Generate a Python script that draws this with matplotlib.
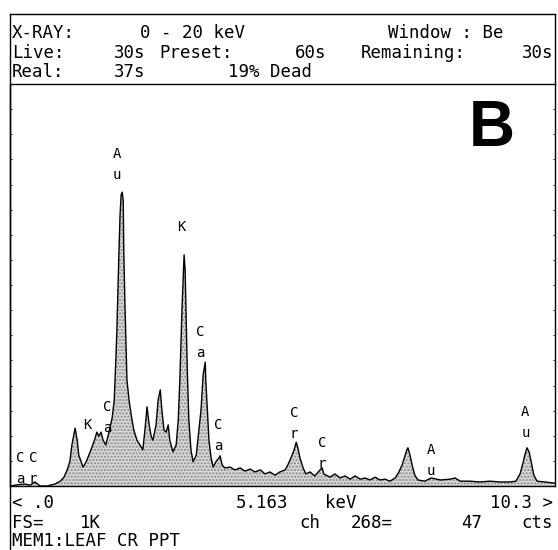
import matplotlib
matplotlib.use('Agg')
from matplotlib import pyplot as plt
import numpy as np

# spectrum, keV vs counts (full scale = 1K)
energy = [0.00, 0.09, 0.28, 0.38, 0.47, 0.57, 0.70, 0.85, 0.95, 1.02, 1.08, 1.13, 1.17, 1.23, 1.27,
          1.30, 1.38, 1.44, 1.47, 1.55, 1.61, 1.64, 1.68, 1.72, 1.76, 1.81, 1.87, 1.93, 1.97, 2.00,
          2.02, 2.04, 2.06, 2.08, 2.10, 2.12, 2.14, 2.15, 2.17, 2.19, 2.21, 2.25, 2.29, 2.34, 2.40,
          2.48, 2.51, 2.55, 2.59, 2.63, 2.67, 2.70, 2.76, 2.80, 2.84, 2.87, 2.91, 2.95, 2.99, 3.02,
          3.08, 3.14, 3.18, 3.21, 3.25, 3.29, 3.31, 3.33, 3.35, 3.38, 3.42, 3.46, 3.52, 3.57, 3.61,
          3.65, 3.69, 3.70, 3.72, 3.76, 3.80, 3.84, 3.89, 3.95, 3.97, 4.01, 4.06, 4.16, 4.25, 4.35,
          4.44, 4.54, 4.63, 4.73, 4.82, 4.91, 5.01, 5.10, 5.20, 5.25, 5.31, 5.37, 5.41, 5.44, 5.48,
          5.54, 5.59, 5.67, 5.76, 5.86, 5.90, 5.93, 6.05, 6.14, 6.24, 6.33, 6.43, 6.52, 6.62, 6.71,
          6.80, 6.90, 6.99, 7.09, 7.18, 7.28, 7.35, 7.41, 7.47, 7.50, 7.52, 7.56, 7.60, 7.65, 7.71,
          7.84, 7.96, 8.13, 8.32, 8.41, 8.51, 8.69, 8.88, 9.07, 9.26, 9.45, 9.56, 9.64, 9.70, 9.73,
          9.77, 9.81, 9.85, 9.90, 9.96, 10.11, 10.30]
counts = [0, 2, 5, 2, 10, 0, 0, 5, 12, 22, 40, 60, 102, 144, 114,
          77, 47, 60, 70, 97, 119, 134, 124, 134, 114, 102, 134, 169, 214, 313,
          388, 488, 587, 674, 724, 731, 711, 587, 463, 363, 264, 214, 177, 139, 114,
          97, 90, 139, 197, 152, 122, 114, 152, 214, 239, 189, 139, 134, 152, 114,
          85, 102, 164, 264, 438, 575, 537, 413, 289, 164, 90, 60, 77, 139, 189,
          276, 308, 264, 214, 114, 70, 47, 60, 70, 75, 52, 45, 47, 40, 45,
          37, 42, 35, 40, 30, 35, 27, 35, 40, 52, 70, 90, 109, 95, 70,
          45, 30, 35, 25, 40, 45, 30, 22, 30, 20, 25, 17, 25, 17, 20,
          15, 22, 15, 17, 12, 20, 35, 52, 77, 90, 95, 77, 52, 27, 15,
          12, 20, 15, 17, 20, 12, 12, 10, 12, 10, 10, 12, 30, 60, 77,
          95, 85, 60, 27, 12, 10, 7]

# peak markers: (text, keV, counts of the upper letter)
peak_labels = [('Au', 2.02, 825), ('K', 3.24, 644), ('Ca', 3.59, 383),
               ('K', 1.46, 152), ('Ca', 1.83, 197), ('Ca', 3.93, 152),
               ('Ca', 0.19, 70), ('Cr', 0.43, 70), ('Cr', 5.37, 181),
               ('Cr', 5.90, 107), ('Au', 7.96, 90), ('Au', 9.74, 184)]

W, H = 558, 550
fig = plt.figure(figsize=(W / 100, H / 100), dpi=100)

# frame in pixel coordinates
bg = fig.add_axes([0, 0, 1, 1])
bg.set_xlim(0, W)
bg.set_ylim(H, 0)
bg.axis('off')
lw = 1.0
bg.plot([10, 555], [14, 14], color='k', lw=lw)
bg.plot([10, 10], [14, 550], color='k', lw=lw)
bg.plot([555, 555], [14, 84], color='k', lw=lw)

mono = 'DejaVu Sans Mono'
fs = 12.5


def txt(x, y, s, ha='center'):
    bg.text(x, y, s, ha=ha, va='center', fontsize=fs, family=mono, color='k')


# header
txt(12, 33, 'X-RAY:', 'left')
txt(192, 33, '0 - 20 keV')
txt(446, 33, 'Window : Be')
txt(12, 53, 'Live:', 'left')
txt(130, 53, '30s')
txt(196, 53, 'Preset:')
txt(311, 53, '60s')
txt(413, 53, 'Remaining:')
txt(553, 53, '30s', 'right')
txt(12, 72, 'Real:', 'left')
txt(130, 72, '37s')
txt(270, 72, '19% Dead')

# footer
txt(12, 503, '< .0', 'left')
txt(262, 503, '5.163')
txt(341, 503, 'keV')
txt(553, 503, '10.3 >', 'right')
txt(12, 523, 'FS=', 'left')
txt(90, 523, '1K')
txt(310, 523, 'ch')
txt(372, 523, '268=')
txt(472, 523, '47')
txt(553, 523, 'cts', 'right')
txt(12, 541, 'MEM1:LEAF CR PPT', 'left')

bg.text(492, 129, 'B', ha='center', va='center', fontsize=46,
        family='Liberation Sans', fontweight='bold', color='k')

# spectrum
ax = fig.add_axes([10 / W, 1 - 486 / H, 545 / W, (486 - 84) / H])
ax.patch.set_alpha(0)
ax.fill_between(energy, counts, 0, facecolor='#d6d6d6', edgecolor='#8a8a8a',
                hatch='.....', linewidth=0)
ax.plot(energy, counts, color='k', lw=1.0)
ax.set_xlim(0, 10.3)
ax.set_ylim(0, 1000)
for sp in ax.spines.values():
    sp.set_linewidth(lw)
ax.set_xticks([])
ax.set_yticks(np.arange(0, 1000, 62.5))
ax.tick_params(axis='y', direction='in', length=1.5, width=0.6,
               left=True, right=True, labelleft=False)

for s, e, c in peak_labels:
    for i, ch in enumerate(s):
        ax.text(e, c - 52 * i, ch, ha='center', va='center', fontsize=10, family=mono)

fig.savefig('out.png', dpi=100)
